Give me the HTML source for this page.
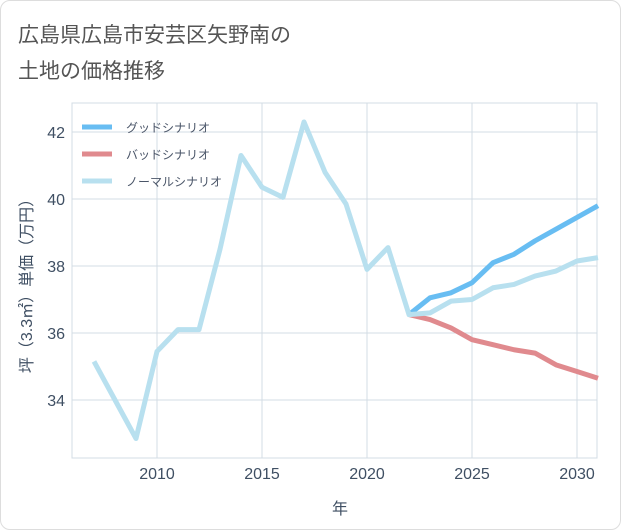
<!DOCTYPE html>
<html><head><meta charset="utf-8"><style>
body{margin:0;background:#fff;font-family:"Liberation Sans","Noto Sans CJK JP",sans-serif;}
.card{position:absolute;left:0;top:0;width:619px;height:528px;border:1px solid #ddd;border-radius:10px;background:#fff;}
</style></head><body>
<div class="card"></div>
<svg width="621" height="530" style="position:absolute;left:0;top:0">
<text x="18" y="42" font-size="21" fill="#555">広島県広島市安芸区矢野南の</text>
<text x="18" y="78" font-size="21" fill="#555">土地の価格推移</text>
<rect x="72" y="103" width="525" height="355" fill="none" stroke="#d3dce4"/>
<g id="grid"></g><g id="series"></g>
<text x="340" y="514" font-size="16" fill="#3f4f63" text-anchor="middle">年</text>
<text transform="translate(32,282) rotate(-90)" font-size="16" fill="#3f4f63" text-anchor="middle">坪（3.3㎡）単価（万円）</text>
<g id="legend"></g>
</svg>
<script>
const years=[2007,2008,2009,2010,2011,2012,2013,2014,2015,2016,2017,2018,2019,2020,2021,2022,2023,2024,2025,2026,2027,2028,2029,2030,2031];
const normal=[35.15,34.0,32.85,35.45,36.1,36.1,38.5,41.3,40.35,40.05,42.3,40.8,39.85,37.9,38.55,36.55,36.6,36.95,37.0,37.35,37.45,37.7,37.85,38.15,38.25];
const fYears=[2022,2023,2024,2025,2026,2027,2028,2029,2030,2031];
const good=[36.55,37.05,37.2,37.5,38.1,38.35,38.75,39.1,39.45,39.8];
const bad=[36.55,36.4,36.15,35.8,35.65,35.5,35.4,35.05,34.85,34.65];
const xTicks=[2010,2015,2020,2025,2030];
const yTicks=[34,36,38,40,42];
const X=y=>157+(y-2010)*21;
const Y=v=>132+(42-v)*33.5;
const NS="http://www.w3.org/2000/svg";
function mk(t,a,p){const e=document.createElementNS(NS,t);for(const k in a)e.setAttribute(k,a[k]);p.appendChild(e);return e;}
const g=document.getElementById('grid');
xTicks.forEach(t=>{
 const l=mk('line',{x1:X(t),x2:X(t),y1:103,y2:458,stroke:'#d3dce4'},g);
 
 
 const tx=mk('text',{x:X(t),y:479,'font-size':16,fill:'#3f4f63','text-anchor':'middle'},g);tx.textContent=t;
 
 
});
yTicks.forEach(t=>{
 const l=mk('line',{x1:72,x2:597,y1:Y(t),y2:Y(t),stroke:'#d3dce4'},g);
 
 
 const tx=mk('text',{x:65,y:Y(t)+6,'font-size':16,fill:'#3f4f63','text-anchor':'end'},g);tx.textContent=t;
 
 
});
const s=document.getElementById('series');
function line(xs,vs,c,name){
 const p=mk('polyline',{points:xs.map((x,i)=>X(x)+','+Y(vs[i])).join(' '),fill:'none',stroke:c,'stroke-width':5,'stroke-linejoin':'round'},s);
 
 
}
line(fYears,bad,'#e08a8e','bad-scenario-line');
line(fYears,good,'#68bdf2','good-scenario-line');
line(years,normal,'#b8e0ef','normal-scenario-line');
const lg=document.getElementById('legend');
[['グッドシナリオ','#68bdf2'],['バッドシナリオ','#e08a8e'],['ノーマルシナリオ','#b8e0ef']].forEach((d,i)=>{
 const y=127+i*27;
 const l=mk('line',{x1:82,x2:112,y1:y,y2:y,stroke:d[1],'stroke-width':5},lg);
 
 
 const t=mk('text',{x:126,y:y+5,'font-size':12,fill:'#4a5568'},lg);t.textContent=d[0];
 
 
});
</script>
</body></html>
